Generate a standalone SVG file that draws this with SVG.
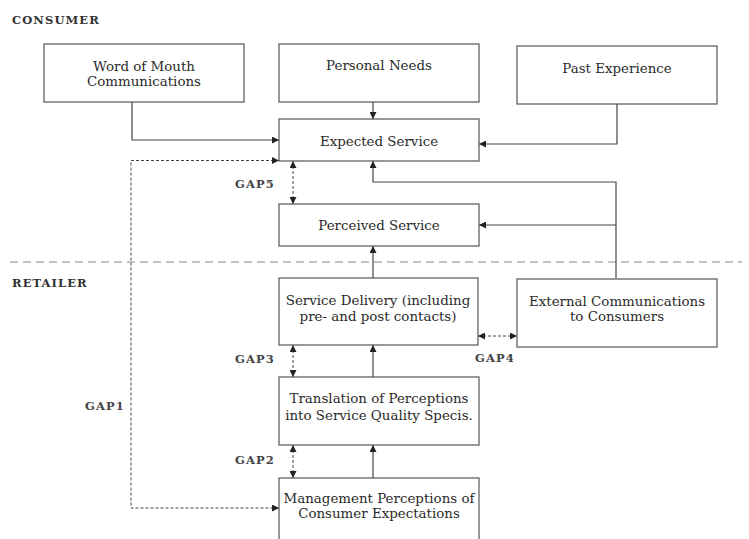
<svg xmlns="http://www.w3.org/2000/svg" width="749" height="539" viewBox="0 0 749 539">
<defs>
<style>
.box{fill:#ffffff;stroke:#555555;stroke-width:1.2}
.t{font-family:"DejaVu Serif","Liberation Serif",serif;font-size:13.4px;fill:#2a2a2a;text-anchor:middle}
.lbl{font-family:"DejaVu Serif","Liberation Serif",serif;font-size:11.5px;font-weight:bold;fill:#333333;letter-spacing:1.1px}
.gap{font-family:"DejaVu Serif","Liberation Serif",serif;font-size:11.5px;font-weight:bold;fill:#444444;letter-spacing:1.1px}
.c{fill:none;stroke:#444444;stroke-width:1.2;marker-end:url(#ah)}
.d{fill:none;stroke:#444444;stroke-width:1;stroke-dasharray:3 2;marker-start:url(#ah);marker-end:url(#ah)}
.sep{fill:none;stroke:#888888;stroke-width:1;stroke-dasharray:8 5}
</style>
<marker id="ah" viewBox="0 0 10 10" refX="10" refY="5" markerWidth="7" markerHeight="7" markerUnits="userSpaceOnUse" orient="auto-start-reverse">
<path d="M0,0 L10,5 L0,10 z" fill="#222222"/>
</marker>
</defs>
<rect width="749" height="539" fill="#ffffff"/>
<text class="lbl" x="12" y="24">CONSUMER</text>
<text class="lbl" x="12" y="287">RETAILER</text>
<path class="sep" d="M10,262 H742"/>
<g id="connectors">
<path class="c" d="M132,102 V140 H279"/>
<path class="c" d="M373,102 V119"/>
<path class="c" d="M617,104 V144 H479"/>
<path class="c" d="M616,278 V182 H373 V161"/>
<path class="c" d="M616,225 H479"/>
<path class="c" d="M373,278 V246"/>
<path class="c" d="M373,377 V345"/>
<path class="c" d="M373,478 V445"/>
<path class="d" d="M293,161 V204"/>
<path class="d" d="M293,345 V377"/>
<path class="d" d="M293,445 V478"/>
<path class="d" d="M478,336 H517"/>
<path class="d" d="M279,160.5 H131 V508 H279"/>
<text class="gap" x="235" y="188">GAP5</text>
<text class="gap" x="235" y="363">GAP3</text>
<text class="gap" x="235" y="464">GAP2</text>
<text class="gap" x="85" y="410">GAP1</text>
<text class="gap" x="475" y="362">GAP4</text>
</g>
<g id="word-of-mouth">
<rect class="box" x="44" y="44" width="200" height="58"/>
<text class="t" x="144" y="71">Word of Mouth</text>
<text class="t" x="144" y="86">Communications</text>
</g>
<g id="personal-needs">
<rect class="box" x="279" y="44" width="200" height="58"/>
<text class="t" x="379" y="70">Personal Needs</text>
</g>
<g id="past-experience">
<rect class="box" x="517" y="46" width="200" height="58"/>
<text class="t" x="617" y="73">Past Experience</text>
</g>
<g id="expected-service">
<rect class="box" x="279" y="119" width="200" height="42"/>
<text class="t" x="379" y="146">Expected Service</text>
</g>
<g id="perceived-service">
<rect class="box" x="279" y="204" width="200" height="42"/>
<text class="t" x="379" y="230">Perceived Service</text>
</g>
<g id="service-delivery">
<rect class="box" x="279" y="278" width="199" height="67"/>
<text class="t" x="378" y="305">Service Delivery (including</text>
<text class="t" x="378" y="321">pre- and post contacts)</text>
</g>
<g id="external-communications">
<rect class="box" x="517" y="279" width="200" height="68"/>
<text class="t" x="617" y="306">External Communications</text>
<text class="t" x="617" y="321">to Consumers</text>
</g>
<g id="translation">
<rect class="box" x="279" y="377" width="200" height="68"/>
<text class="t" x="379" y="403">Translation of Perceptions</text>
<text class="t" x="379" y="420">into Service Quality Specis.</text>
</g>
<g id="management-perceptions">
<rect class="box" x="279" y="478" width="200" height="70"/>
<text class="t" x="379" y="503">Management Perceptions of</text>
<text class="t" x="379" y="518">Consumer Expectations</text>
</g>
</svg>
